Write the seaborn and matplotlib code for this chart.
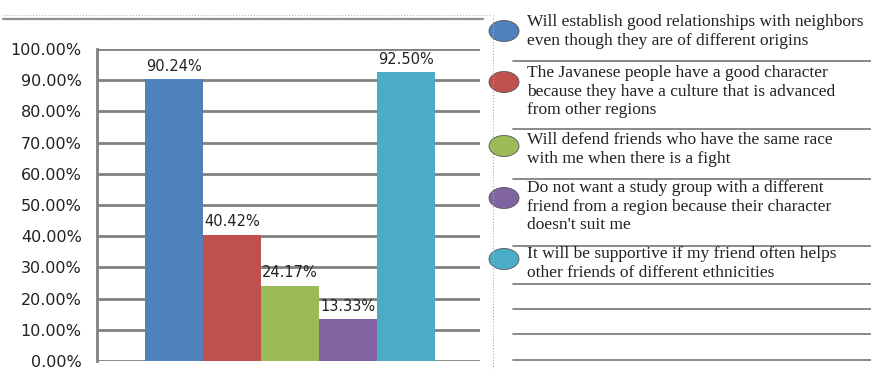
import matplotlib
matplotlib.use("Agg")
import matplotlib.pyplot as plt
import seaborn as sns
import pandas as pd
from matplotlib.lines import Line2D
from matplotlib.patches import Ellipse

categories = [
    "Will establish good relationships with neighbors\neven though they are of different origins",
    "The Javanese people have a good character\nbecause they have a culture that is advanced\nfrom other regions",
    "Will defend friends who have the same race\nwith me when there is a fight",
    "Do not want a study group with a different\nfriend from a region because their character\ndoesn't suit me",
    "It will be supportive if my friend often helps\nother friends of different ethnicities",
]
values = [90.24, 40.42, 24.17, 13.33, 92.50]
colors = ["#4F81BD", "#C0504D", "#9BBB59", "#8064A2", "#4BACC6"]
yticks = [0, 10, 20, 30, 40, 50, 60, 70, 80, 90, 100]

sns.set_style("white")
plt.rcParams["font.family"] = ["DejaVu Sans"]

W, H = 871, 369
fig = plt.figure(figsize=(W / 100, H / 100), dpi=100)
x0, x1, ytop, ybot = 97, 480, 49, 361
ax = fig.add_axes([x0 / W, 1 - ybot / H, (x1 - x0) / W, (ybot - ytop) / H])

df = pd.DataFrame({"cat": categories, "val": values})
sns.barplot(data=df, x="cat", y="val", hue="cat", palette=colors, width=1.0,
            legend=False, ax=ax, saturation=1, linewidth=0)

ax.set_xlim(-1.33, 5.28)
ax.set_ylim(0, 100)
ax.set_yticks(yticks)
ax.set_yticklabels([f"{v:.2f}%" for v in yticks], fontsize=11.5, color="#222222")
ax.set_xticks([])
ax.set_xlabel("")
ax.set_ylabel("")
ax.yaxis.grid(True, color="#808080", linewidth=2)
ax.set_axisbelow(True)
for s in ["top", "right", "bottom"]:
    ax.spines[s].set_visible(False)
ax.spines["left"].set_color("#808080")
ax.spines["left"].set_linewidth(2)
ax.tick_params(axis="y", length=5, width=2, color="#808080", pad=6)

for c in ax.containers:
    ax.bar_label(c, labels=[f"{v:.2f}%" for v in c.datavalues], padding=4,
                 fontsize=10.5, color="#222222")

# decorative frame lines
fig.add_artist(Line2D([3 / W, 483 / W], [1 - 19 / H] * 2, color="#909090", lw=1.6))
fig.add_artist(Line2D([3 / W, 490 / W], [1 - 15 / H] * 2, color="#bbbbbb", lw=0.8, ls=":"))
fig.add_artist(Line2D([493 / W] * 2, [1 - 15 / H, 0], color="#aaaaaa", lw=0.8, ls=":"))

# legend
legend_y = [31, 82, 146, 198, 259]
text_top = [14, 65, 132, 180, 246]
line_y = [61, 129, 179, 246, 284, 309, 334, 360]
for ly in line_y:
    fig.add_artist(Line2D([513 / W, 1], [1 - ly / H] * 2, color="#808080", lw=1.3))
for i, (lab, col) in enumerate(zip(categories, colors)):
    cy = legend_y[i]
    e = Ellipse((504 / W, 1 - cy / H), 30 / W, 21 / H, transform=fig.transFigure,
                facecolor=col, edgecolor="#555555", lw=0.6)
    fig.add_artist(e)
    fig.text(527 / W, 1 - text_top[i] / H, lab,
             family="Liberation Serif", fontsize=12.5, va="top", ha="left",
             linespacing=1.22, color="#222222")

fig.savefig("out.png", dpi=100)
